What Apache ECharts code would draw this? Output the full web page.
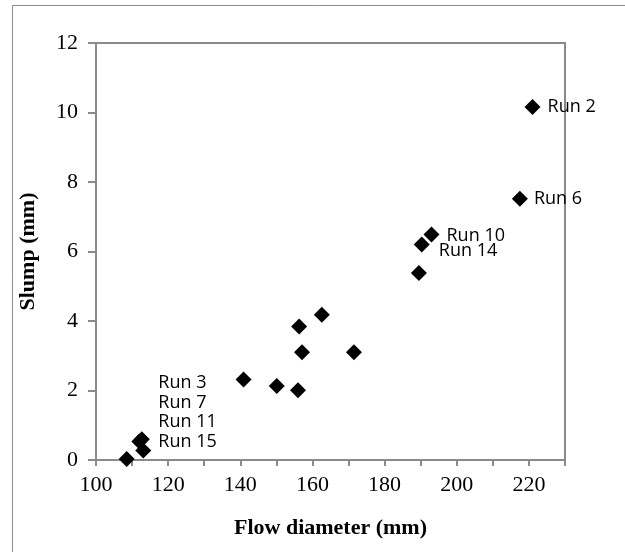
<!DOCTYPE html>
<html><head><meta charset="utf-8">
<script src="https://cdn.jsdelivr.net/npm/echarts@6/dist/echarts.min.js"></script>
<style>html,body{margin:0;padding:0;background:#fff}#c{width:625px;height:552px}</style>
</head><body><div id="c"></div>
<script>
// Data
const flowDiameter = [221.0, 217.5, 193.0, 190.3, 189.5, 162.6, 156.3, 157.1, 171.5, 140.9, 150.1, 156.0, 108.5, 112.0, 112.7, 113.1];
const slump        = [10.16, 7.52, 6.49, 6.20, 5.38, 4.18, 3.84, 3.10, 3.10, 2.32, 2.13, 2.01, 0.03, 0.53, 0.60, 0.27];
const pointLabels  = ['Run 2', 'Run 6', 'Run 10', 'Run 14', '', '', '', '', '', '', '', '', '', 'Run 3\nRun 7\nRun 11\nRun 15', '', ''];
const xTicks = [100, 120, 140, 160, 180, 200, 220];
const yTicks = [0, 2, 4, 6, 8, 10, 12];

const labelOffsets = {
  'Run 2': [2, 0], 'Run 6': [1, 0], 'Run 10': [2, 1], 'Run 14': [4, 6]
};
const data = flowDiameter.map((x, i) => {
  const t = pointLabels[i];
  const d = { value: [x, slump[i]] };
  if (t) {
    const multi = t.indexOf('\n') >= 0;
    d.label = {
      show: true, position: 'right', formatter: t, color: '#000',
      fontFamily: 'Open Sans', fontSize: 18,
      offset: multi ? [6, -29] : (labelOffsets[t] || [2, 0]),
      lineHeight: 19.5
    };
  }
  return d;
});

const chart = echarts.init(document.getElementById('c'));
const axisGray = '#8a8a8a';
chart.setOption({
  animation: false,
  backgroundColor: '#fff',
  graphic: [{
    type: 'rect', shape: { x: 12.5, y: 5.5, width: 700, height: 700 },
    style: { fill: 'none', stroke: '#8c8c8c', lineWidth: 1 }, silent: true, z: -1
  }],
  grid: { left: 96, top: 43, right: 60, bottom: 92, show: true, borderColor: axisGray, borderWidth: 2, backgroundColor: 'transparent' },
  xAxis: {
    type: 'value', min: 100, max: 230, interval: 10,
    name: 'Flow diameter (mm)', nameLocation: 'middle', nameGap: 57,
    nameTextStyle: { fontFamily: 'Liberation Serif', fontWeight: 'bold', fontSize: 22, color: '#000' },
    axisLine: { show: true, lineStyle: { color: axisGray, width: 2 } },
    axisTick: { show: true, length: 6, lineStyle: { color: axisGray, width: 2 } },
    splitLine: { show: false },
    axisLabel: {
      fontFamily: 'Liberation Serif', fontSize: 22, color: '#000', margin: 14,
      formatter: v => xTicks.indexOf(v) >= 0 ? String(v) : ''
    }
  },
  yAxis: {
    type: 'value', min: 0, max: 12, interval: 2,
    name: 'Slump (mm)', nameLocation: 'middle', nameGap: 57, nameRotate: 90,
    nameTextStyle: { fontFamily: 'Liberation Serif', fontWeight: 'bold', fontSize: 22, color: '#000' },
    axisLine: { show: true, lineStyle: { color: axisGray, width: 2 } },
    axisTick: { show: true, length: 8, lineStyle: { color: axisGray, width: 2 } },
    splitLine: { show: false },
    axisLabel: {
      fontFamily: 'Liberation Serif', fontSize: 22, color: '#000', margin: 18,
      formatter: v => yTicks.indexOf(v) >= 0 ? String(v) : ''
    }
  },
  series: [{
    type: 'scatter', symbol: 'diamond', symbolSize: 16,
    itemStyle: { color: '#000', opacity: 1 },
    label: { show: false, color: '#000', fontFamily: 'Open Sans', fontSize: 18 },
    data: data
  }]
});
</script></body></html>
